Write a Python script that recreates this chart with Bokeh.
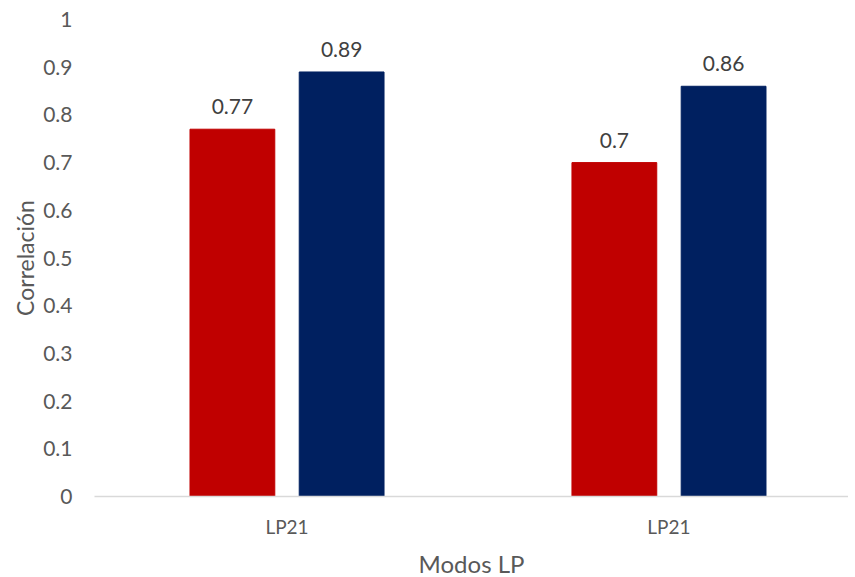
from bokeh.plotting import figure
from bokeh.models import ColumnDataSource, Range1d, FixedTicker
from bokeh.embed import file_html
from bokeh.resources import INLINE
from bokeh.core.properties import value

categories = ["LP21", "LP21"]
series_a = [0.77, 0.70]
series_b = [0.89, 0.86]
y_ticks = [0, 0.1, 0.2, 0.3, 0.4, 0.5, 0.6, 0.7, 0.8, 0.9, 1]

FONT = "Lato"
centers = [i + 0.5 for i in range(len(categories))]
off = 0.143
bw = 0.222

src_a = ColumnDataSource(dict(x=[c - off for c in centers], top=series_a,
                              lab=[f"{v:g}" for v in series_a]))
src_b = ColumnDataSource(dict(x=[c + off for c in centers], top=series_b,
                              lab=[f"{v:g}" for v in series_b]))

p = figure(frame_width=754, frame_height=477, output_backend="svg", toolbar_location=None,
           x_range=Range1d(-0.004, 1.97), y_range=Range1d(0, 1),
           min_border_left=94, min_border_right=0, min_border_top=19, min_border_bottom=10)
p.outline_line_color = None
p.xgrid.grid_line_color = None
p.ygrid.grid_line_color = None

p.vbar(x="x", top="top", width=bw, bottom=0, source=src_a, color="#C00000")
p.vbar(x="x", top="top", width=bw, bottom=0, source=src_b, color="#002060")

for s in (src_a, src_b):
    p.text(x="x", y="top", text="lab", source=s, text_align="center", text_baseline="bottom",
           y_offset=-15, text_font=value(FONT), text_font_size="21px", text_color="#404040")

p.xaxis.ticker = FixedTicker(ticks=centers)
p.xaxis.major_label_overrides = {c: lab for c, lab in zip(centers, categories)}
p.xaxis.axis_line_color = "#D9D9D9"
p.xaxis.axis_line_width = 1.5
p.xaxis.major_tick_line_color = None
p.xaxis.minor_tick_line_color = None
p.xaxis.major_tick_out = 0
p.xaxis.major_tick_in = 0
p.xaxis.major_label_standoff = 18
p.xaxis.major_label_text_font = FONT
p.xaxis.major_label_text_font_size = "19px"
p.xaxis.major_label_text_color = "#595959"
p.xaxis.axis_label = "Modos LP"
p.xaxis.axis_label_standoff = 8
p.xaxis.axis_label_text_font = FONT
p.xaxis.axis_label_text_font_style = "normal"
p.xaxis.axis_label_text_font_size = "24px"
p.xaxis.axis_label_text_color = "#595959"

p.yaxis.ticker = FixedTicker(ticks=y_ticks)
p.yaxis.major_label_overrides = {t: f"{t:g}" for t in y_ticks}
p.yaxis.axis_line_color = None
p.yaxis.major_tick_line_color = None
p.yaxis.minor_tick_line_color = None
p.yaxis.major_tick_out = 0
p.yaxis.major_tick_in = 0
p.yaxis.major_label_standoff = 22
p.yaxis.major_label_text_font = FONT
p.yaxis.major_label_text_font_size = "21px"
p.yaxis.major_label_text_color = "#595959"
p.yaxis.axis_label = "Correlación"
p.yaxis.axis_label_standoff = 1
p.yaxis.axis_label_text_font = FONT
p.yaxis.axis_label_text_font_style = "normal"
p.yaxis.axis_label_text_font_size = "23px"
p.yaxis.axis_label_text_color = "#595959"

open("out.html", "w").write(file_html(p, INLINE))
